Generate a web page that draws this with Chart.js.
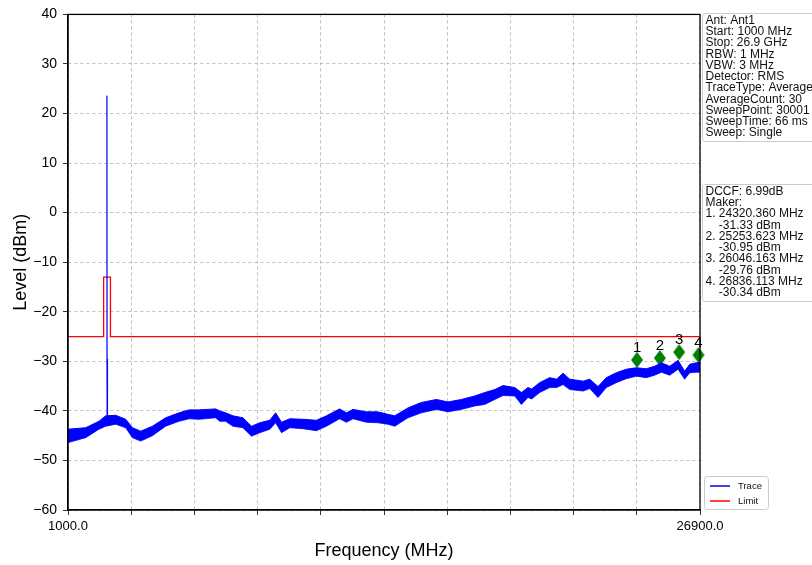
<!DOCTYPE html>
<html>
<head>
<meta charset="utf-8">
<script src="https://cdn.jsdelivr.net/npm/chart.js@4"></script>
<style>
  html, body { margin: 0; padding: 0; background: #fff; }
  #wrap { width: 812px; height: 565px; }
</style>
</head>
<body>
<div id="wrap"><canvas id="chart" width="812" height="565"></canvas></div>
<script>
// trace envelope read from the sweep (MHz / dBm)
const traceFreq = [1000, 1725, 2270, 2545, 2955, 3365, 3640, 3980, 4460, 5000, 5550, 5960, 6370, 7050, 7220, 7460, 7760, 8170, 8520, 8860, 9270, 9510, 9750, 10090, 10630, 11180, 11590, 12130, 12410, 12680, 13230, 13700, 14110, 14390, 14930, 15480, 16100, 16570, 17120, 17670, 18080, 18490, 18830, 19310, 19580, 19850, 20000, 20330, 20740, 21020, 21290, 21560, 22110, 22380, 22720, 23060, 23470, 23880, 24290, 24700, 25040, 25320, 25660, 26000, 26270, 26480, 26750, 26900];
const traceHigh = [-43.7, -43.4, -42.1, -41.0, -40.9, -41.7, -43.4, -44.1, -43.1, -41.4, -40.4, -39.8, -39.8, -39.6, -40.0, -40.4, -41.0, -41.4, -43.1, -42.4, -41.9, -40.4, -42.3, -41.6, -41.7, -41.9, -41.0, -39.6, -40.4, -39.7, -40.2, -40.2, -40.7, -41.0, -39.4, -38.3, -37.7, -38.2, -37.7, -37.0, -36.3, -35.7, -34.9, -35.3, -36.3, -35.3, -35.6, -34.3, -33.3, -33.6, -32.4, -33.6, -34.0, -33.6, -35.1, -33.3, -32.3, -31.6, -31.3, -31.5, -31.0, -30.3, -31.0, -29.8, -32.0, -30.6, -30.3, -30.2];
const traceLow = [-46.4, -45.4, -43.7, -43.1, -42.7, -43.4, -45.4, -46.1, -45.0, -43.1, -42.1, -41.6, -41.7, -41.4, -42.1, -42.1, -43.1, -43.4, -45.1, -44.4, -43.7, -42.4, -44.4, -43.4, -43.6, -44.0, -43.1, -41.6, -42.3, -41.6, -42.3, -42.4, -42.7, -43.1, -41.4, -40.4, -39.7, -40.2, -39.7, -39.0, -38.7, -37.7, -36.9, -37.0, -38.7, -37.3, -37.6, -36.3, -35.3, -35.3, -34.7, -35.7, -36.0, -35.5, -37.3, -35.3, -34.3, -33.5, -33.0, -33.3, -32.8, -32.2, -32.8, -31.6, -33.6, -32.3, -32.2, -32.2];

// carrier spike
const spikeFreq = [2575, 2592, 2598, 2604, 2621];
const spikeLevel = [-42.0, -29.5, 23.6, -29.5, -42.0];

// limit mask
const limitFreq = [1000, 2460, 2460, 2740, 2740, 26900];
const limitLevel = [-25, -25, -13, -13, -25, -25];

// markers
const markerFreq = [24320.360, 25253.623, 26046.163, 26836.113];
const markerLevel = [-31.33, -30.95, -29.76, -30.34];

const freqTicks = [1000, 3590, 6180, 8770, 11360, 13950, 16540, 19130, 21720, 24310, 26900];
const levelTicks = [40, 30, 20, 10, 0, -10, -20, -30, -40, -50, -60];

const infoLines = ['Ant: Ant1', 'Start: 1000 MHz', 'Stop: 26.9 GHz', 'RBW: 1 MHz', 'VBW: 3 MHz', 'Detector: RMS',
  'TraceType: Average', 'AverageCount: 30', 'SweepPoint: 30001', 'SweepTime: 66 ms', 'Sweep: Single'];
const makerLines = ['DCCF: 6.99dB', 'Maker:'];
markerFreq.forEach((f, i) => {
    makerLines.push(`${i + 1}. ${f.toFixed(3)} MHz`);
    makerLines.push(`    ${markerLevel[i].toFixed(2)} dBm`);
});

const FONT = "'Liberation Sans', Arial, sans-serif";

function pts(xs, ys) {
    return xs.map((x, i) => ({ x: x, y: ys[i] }));
}

function makeDiamond() {
    const c = document.createElement('canvas');
    c.width = 14; c.height = 34;
    const g = c.getContext('2d');
    g.fillStyle = '#008000';
    g.beginPath();
    g.moveTo(7, 1); g.lineTo(13, 9); g.lineTo(7, 17); g.lineTo(1, 9);
    g.closePath();
    g.fill();
    return c;
}

function roundRect(ctx, x, y, w, h, r) {
    ctx.beginPath();
    ctx.moveTo(x + r, y);
    ctx.lineTo(x + w - r, y); ctx.arcTo(x + w, y, x + w, y + r, r);
    ctx.lineTo(x + w, y + h - r); ctx.arcTo(x + w, y + h, x + w - r, y + h, r);
    ctx.lineTo(x + r, y + h); ctx.arcTo(x, y + h, x, y + h - r, r);
    ctx.lineTo(x, y + r); ctx.arcTo(x, y, x + r, y, r);
    ctx.closePath();
}

const extras = {
    id: 'extras',
    afterDraw(chart) {
        const ctx = chart.ctx;
        const a = chart.chartArea;
        ctx.save();
        // frame
        ctx.strokeStyle = '#000';
        ctx.lineWidth = 1.3;
        ctx.strokeRect(a.left, a.top, a.right - a.left, a.bottom - a.top);

        // marker numbers
        const xs = chart.scales.x, ys = chart.scales.y;
        ctx.fillStyle = '#000';
        ctx.font = '15px ' + FONT;
        ctx.textAlign = 'center';
        ctx.textBaseline = 'alphabetic';
        markerFreq.forEach((f, i) => {
            ctx.fillText(String(i + 1), xs.getPixelForValue(f), ys.getPixelForValue(markerLevel[i]) - 16);
        });

        // info boxes
        ctx.textAlign = 'left';
        ctx.textBaseline = 'middle';
        ctx.font = '12px ' + FONT;
        const box = (lines, top, h) => {
            roundRect(ctx, 702.5, top, 130, h, 3);
            ctx.fillStyle = '#fff';
            ctx.fill();
            ctx.strokeStyle = '#cccccc';
            ctx.lineWidth = 1;
            ctx.stroke();
            ctx.fillStyle = '#111';
            lines.forEach((t, i) => ctx.fillText(t, 705.5, top + 7 + i * 11.25));
        };
        box(infoLines, 13.5, 128);
        box(makerLines, 184.5, 117);

        // legend
        roundRect(ctx, 704.5, 476.5, 64, 33, 3);
        ctx.fillStyle = '#fff';
        ctx.fill();
        ctx.strokeStyle = '#cccccc';
        ctx.stroke();
        ctx.font = '9.5px ' + FONT;
        const legendItems = [chart.data.datasets[0], chart.data.datasets[3]];
        legendItems.forEach((ds, i) => {
            const y = 486 + i * 15;
            ctx.strokeStyle = ds.borderColor;
            ctx.lineWidth = 1.5;
            ctx.beginPath();
            ctx.moveTo(710, y); ctx.lineTo(730, y);
            ctx.stroke();
            ctx.fillStyle = '#111';
            ctx.fillText(ds.label, 738, y);
        });
        ctx.restore();
    }
};

new Chart(document.getElementById('chart'), {
    type: 'line',
    data: {
        datasets: [
            {
                label: 'Trace',
                data: pts(traceFreq, traceHigh),
                borderColor: '#0000ff',
                backgroundColor: '#0000ff',
                borderWidth: 1,
                pointRadius: 0,
                fill: '+1'
            },
            {
                label: 'TraceLow',
                data: pts(traceFreq, traceLow),
                borderColor: '#0000ff',
                borderWidth: 0.8,
                pointRadius: 0,
                fill: false
            },
            {
                label: 'Spike',
                data: pts(spikeFreq, spikeLevel),
                borderColor: 'rgba(0,0,255,0.75)',
                borderWidth: 1,
                pointRadius: 0,
                fill: false
            },
            {
                label: 'Limit',
                data: pts(limitFreq, limitLevel),
                borderColor: '#ff0000',
                borderWidth: 1.3,
                pointRadius: 0,
                fill: false
            },
            {
                label: 'Markers',
                data: pts(markerFreq, markerLevel),
                showLine: false,
                pointStyle: makeDiamond(),
                pointRadius: 7,
                borderWidth: 0,
                clip: false
            }
        ]
    },
    options: {
        responsive: false,
        animation: false,
        events: [],
        layout: { padding: { top: 14, right: 112, left: 0, bottom: 0 } },
        plugins: {
            legend: { display: false },
            tooltip: { enabled: false }
        },
        scales: {
            x: {
                type: 'linear',
                min: 1000,
                max: 26900,
                afterBuildTicks: (s) => { s.ticks = freqTicks.map(v => ({ value: v })); },
                afterFit: (s) => { s.height = 55; },
                ticks: {
                    autoSkip: false,
                    maxRotation: 0,
                    padding: 4,
                    color: '#000',
                    font: { family: FONT, size: 13 },
                    callback: (v) => (v === freqTicks[0] || v === freqTicks[freqTicks.length - 1]) ? v.toFixed(1) : ''
                },
                grid: {
                    color: '#b0b0b0',
                    tickColor: '#000',
                    tickLength: 5,
                    lineWidth: 0.8
                },
                border: { display: true, color: '#000', width: 1.3, dash: [3, 3] },
                title: {
                    display: true,
                    text: 'Frequency (MHz)',
                    color: '#000',
                    font: { family: FONT, size: 18 },
                    padding: { top: 6, bottom: 3 }
                }
            },
            y: {
                min: -60,
                max: 40,
                afterBuildTicks: (s) => { s.ticks = levelTicks.map(v => ({ value: v })); },
                afterFit: (s) => { s.width = 68; },
                ticks: {
                    padding: 6,
                    color: '#000',
                    font: { family: FONT, size: 14 },
                    callback: (v) => String(v).replace('-', '\u2212')
                },
                grid: {
                    color: '#b0b0b0',
                    tickColor: '#000',
                    tickLength: 5,
                    lineWidth: 0.8
                },
                border: { display: true, color: '#000', width: 1.3, dash: [3, 3] },
                title: {
                    display: true,
                    text: 'Level (dBm)',
                    color: '#000',
                    font: { family: FONT, size: 18 },
                    padding: { top: 10, bottom: 4 }
                }
            }
        }
    },
    plugins: [extras]
});
</script>
</body>
</html>
